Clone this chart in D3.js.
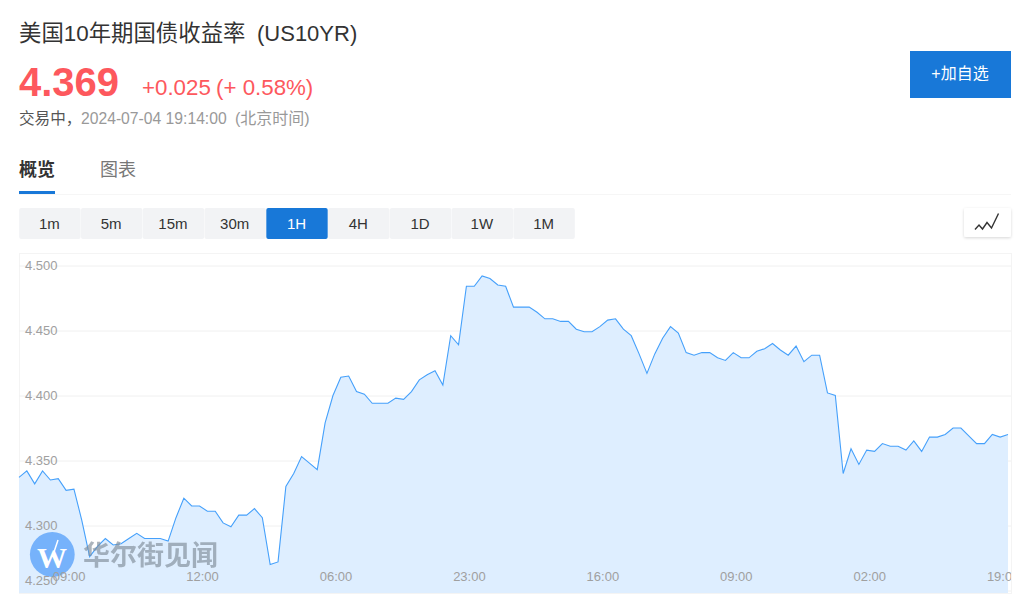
<!DOCTYPE html>
<html>
<head>
<meta charset="utf-8">
<script src="https://cdn.jsdelivr.net/npm/d3@7"></script>
<style>
  body { margin: 0; background: #fff; }
  svg { display: block; }
  text { font-family: "Liberation Sans", "Noto Sans CJK SC", sans-serif; white-space: pre; }
</style>
</head>
<body>
<div id="chart"></div>
<script>
// Hourly yield, oldest first
const yields = [
  4.337, 4.342, 4.332, 4.342, 4.335, 4.336, 4.327, 4.328, 4.304, 4.276,
  4.284, 4.290, 4.285, 4.286, 4.290, 4.294, 4.290, 4.290, 4.290, 4.288,
  4.306, 4.321, 4.315, 4.315, 4.311, 4.311, 4.302, 4.299, 4.308, 4.308,
  4.313, 4.306, 4.270, 4.272, 4.330, 4.340, 4.353, 4.348, 4.343, 4.379,
  4.400, 4.414, 4.415, 4.403, 4.401, 4.394, 4.394, 4.394, 4.398, 4.397,
  4.403, 4.412, 4.416, 4.419, 4.408, 4.446, 4.439, 4.484, 4.484, 4.492,
  4.490, 4.485, 4.484, 4.468, 4.468, 4.468, 4.464, 4.459, 4.459, 4.457,
  4.457, 4.451, 4.449, 4.449, 4.453, 4.458, 4.459, 4.451, 4.446, 4.432,
  4.417, 4.432, 4.444, 4.453, 4.448, 4.433, 4.431, 4.433, 4.433, 4.429,
  4.427, 4.433, 4.429, 4.429, 4.434, 4.436, 4.440, 4.435, 4.431, 4.438,
  4.426, 4.431, 4.431, 4.402, 4.400, 4.340, 4.359, 4.347, 4.358, 4.357,
  4.363, 4.361, 4.361, 4.358, 4.365, 4.357, 4.368, 4.368, 4.370, 4.375,
  4.375, 4.369, 4.363, 4.363, 4.370, 4.368, 4.370
];
const yTicks = [4.25, 4.30, 4.35, 4.40, 4.45, 4.50];
const xTickIndex = [6, 23, 40, 57, 74, 91, 108, 125];
const xTickLabels = ["09:00", "12:00", "06:00", "23:00", "16:00", "09:00", "02:00", "19:00"];
const periods = ["1m", "5m", "15m", "30m", "1H", "4H", "1D", "1W", "1M"];
const activePeriod = "1H";

const svg = d3.select("#chart").append("svg")
  .attr("width", 1024)
  .attr("height", 608);

const defs = svg.append("defs");
defs.append("clipPath").attr("id", "plotClip")
  .append("rect").attr("x", 19).attr("y", 253).attr("width", 992).attr("height", 340);
const shadow = defs.append("filter").attr("id", "btnShadow")
  .attr("x", "-20%").attr("y", "-20%").attr("width", "140%").attr("height", "150%");
shadow.append("feDropShadow").attr("dx", 0).attr("dy", 1).attr("stdDeviation", 1.5)
  .attr("flood-color", "#000").attr("flood-opacity", 0.16);

// Header
svg.append("text").attr("x", 19).attr("y", 41)
  .attr("font-size", 22.4).attr("fill", "#333")
  .text("美国10年期国债收益率");
svg.append("text").attr("x", 257).attr("y", 41)
  .attr("font-size", 22).attr("fill", "#333")
  .text("(US10YR)");
svg.append("text").attr("x", 19).attr("y", 96)
  .attr("font-size", 40).attr("font-weight", "bold").attr("fill", "#fd585d")
  .text("4.369");
svg.append("text").attr("x", 142).attr("y", 95)
  .attr("font-size", 22.3).attr("fill", "#fd585d")
  .text("+0.025");
svg.append("text").attr("x", 216).attr("y", 95)
  .attr("font-size", 22.3).attr("fill", "#fd585d")
  .text("(+ 0.58%)");
svg.append("text").attr("x", 19).attr("y", 124)
  .attr("font-size", 15.6).attr("fill", "#555")
  .text("交易中，");
svg.append("text").attr("x", 81).attr("y", 124)
  .attr("font-size", 15.7).attr("fill", "#999")
  .text("2024-07-04 19:14:00");
svg.append("text").attr("x", 235).attr("y", 124)
  .attr("font-size", 16).attr("fill", "#999")
  .text("(北京时间)");

// Add-to-watchlist button
svg.append("rect").attr("x", 910).attr("y", 51).attr("width", 101).attr("height", 47)
  .attr("fill", "#1878d8");
svg.append("text").attr("x", 960).attr("y", 79).attr("text-anchor", "middle")
  .attr("font-size", 16).attr("fill", "#fff")
  .text("+加自选");

// Tabs
svg.append("text").attr("x", 19).attr("y", 176)
  .attr("font-size", 18).attr("font-weight", "bold").attr("fill", "#333")
  .text("概览");
svg.append("text").attr("x", 100).attr("y", 176)
  .attr("font-size", 18).attr("fill", "#777")
  .text("图表");
svg.append("rect").attr("x", 19).attr("y", 194).attr("width", 992).attr("height", 1)
  .attr("fill", "#f6f6f6");
svg.append("rect").attr("x", 19).attr("y", 191).attr("width", 36).attr("height", 3)
  .attr("fill", "#1878d8");

// Period buttons
const xPeriod = d3.scaleBand().domain(periods).range([19, 575]);
const periodGroup = svg.append("g").selectAll("g")
  .data(periods)
  .enter()
  .append("g")
  .attr("transform", d => `translate(${xPeriod(d)},208)`);
periodGroup.append("rect")
  .attr("x", 0.2)
  .attr("width", xPeriod.bandwidth() - 0.4)
  .attr("height", 31)
  .attr("rx", 2)
  .attr("fill", d => d === activePeriod ? "#1878d8" : "#f2f3f5");
periodGroup.append("text")
  .attr("x", xPeriod.bandwidth() / 2 - 0.5)
  .attr("y", 21)
  .attr("text-anchor", "middle")
  .attr("font-size", 15)
  .attr("fill", d => d === activePeriod ? "#fff" : "#333")
  .text(d => d);

// Line-type icon button
svg.append("rect").attr("x", 964).attr("y", 208).attr("width", 47).attr("height", 29)
  .attr("rx", 2).attr("fill", "#fff").attr("filter", "url(#btnShadow)");
svg.append("path")
  .attr("d", "M975,229.5L979,225L982.5,229L987,222.5L991.5,228L998.5,213.5")
  .attr("fill", "none").attr("stroke", "#333").attr("stroke-width", 1.4);

// Chart scales
const x = d3.scaleLinear().domain([0, yields.length - 1]).range([19, 1008]);
const y = d3.scaleLinear().domain([4.25, 4.5]).range([590.5, 265.5]);
const plotBottom = 593;

// Plot border and grid
svg.append("rect").attr("x", 19.5).attr("y", 253.5).attr("width", 992).attr("height", 340)
  .attr("fill", "none").attr("stroke", "#f4f4f4");

const grid = svg.append("g")
  .attr("transform", "translate(19,0)")
  .call(d3.axisRight(y).tickValues(yTicks).tickSize(992).tickFormat(""));
grid.select(".domain").remove();
grid.selectAll("line").attr("stroke", "#f0f0f0");

// Area and line
svg.append("path")
  .attr("d", d3.area()
    .x((d, i) => x(i))
    .y0(plotBottom)
    .y1(d => y(d))(yields))
  .attr("fill", "#deeeff");
svg.append("path")
  .attr("d", d3.line()
    .x((d, i) => x(i))
    .y(d => y(d))(yields))
  .attr("fill", "none")
  .attr("stroke", "#45a0fb")
  .attr("stroke-width", 1.1);

// Watermark
const mark = svg.append("g");
mark.append("circle").attr("cx", 52.3).attr("cy", 554.5).attr("r", 22.4)
  .attr("fill", "#76b2fb");
mark.append("text").attr("x", 52).attr("y", 567.5).attr("text-anchor", "middle")
  .attr("font-size", 30).attr("font-weight", "bold").attr("fill", "#fff")
  .style("font-family", '"Liberation Serif", serif')
  .text("W");
mark.append("path")
  .attr("d", "M53,555L58,540")
  .attr("stroke", "#fff").attr("stroke-width", 1.5);
mark.append("text").attr("x", 83).attr("y", 565)
  .attr("font-size", 27).attr("font-weight", "bold").attr("fill", "#808d99").attr("opacity", 0.65)
  .text("华尔街见闻");

// Axis labels
const yAxis = svg.append("g")
  .attr("transform", "translate(25,0)")
  .call(d3.axisRight(y).tickValues(yTicks).tickSize(0).tickPadding(0).tickFormat(d3.format(".3f")));
yAxis.select(".domain").remove();
yAxis.selectAll("text")
  .attr("font-size", 13)
  .attr("fill", "#a0a0a0")
  .style("font-family", '"Liberation Sans", sans-serif');
// The bottom label sits above its grid line
yAxis.selectAll("text").filter(d => d === yTicks[0]).attr("y", -10);

const xAxis = svg.append("g")
  .attr("clip-path", "url(#plotClip)")
  .append("g")
  .attr("transform", "translate(2.5,572)")
  .call(d3.axisBottom(x)
    .tickValues(xTickIndex)
    .tickSize(0)
    .tickPadding(0)
    .tickFormat((d, i) => xTickLabels[i]));
xAxis.select(".domain").remove();
xAxis.selectAll("text")
  .attr("font-size", 13)
  .attr("fill", "#a0a0a0")
  .style("font-family", '"Liberation Sans", sans-serif');
</script>
</body>
</html>
